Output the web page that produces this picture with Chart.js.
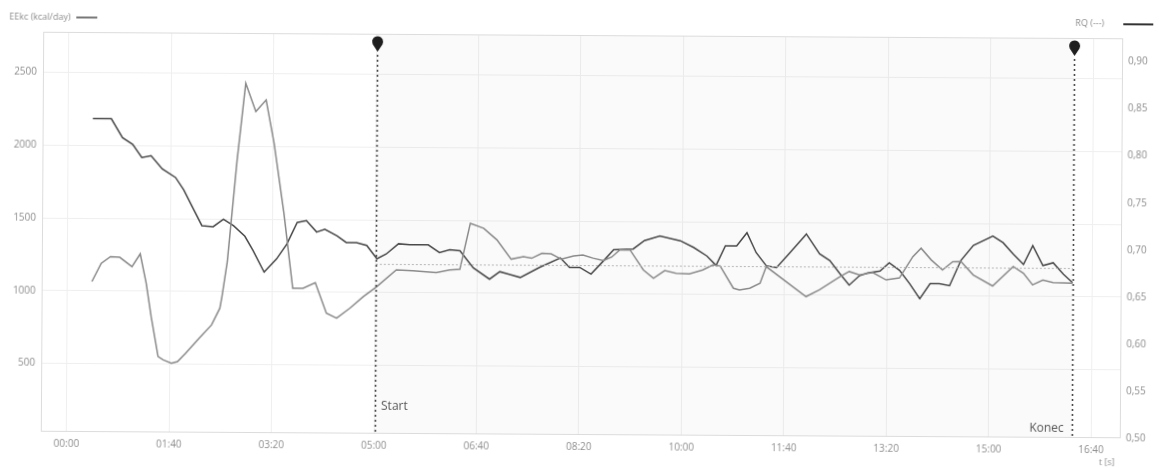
<!DOCTYPE html>
<html>
<head>
<meta charset="utf-8">
<script src="https://cdn.jsdelivr.net/npm/chart.js@4.4.1/dist/chart.umd.min.js"></script>
<style>
  html, body { margin: 0; padding: 0; background: #fff; overflow: hidden; }
  /* the reference is a slightly tilted scan */
  #wrap { width: 1162px; height: 468px; transform: rotate(0.345deg); transform-origin: 581px 234px; }
</style>
</head>
<body>
<div id="wrap"><canvas id="chart" width="1162" height="468"></canvas></div>
<script>
// time in seconds
const rqTimes = [24,42,53,63,72,81,92,105,113,121,131,142,152,162,173,181,192,204,214,224,
  233,243,251,263,272,282,292,302,311,323,334,352,363,373,383,396,412,422,432,442,
  461,481,490,500,511,523,533,552,563,578,598,611,624,633,642,653,663,672,682,692,
  705,721,734,744,754,763,773,781,793,802,812,822,832,842,851,861,872,884,903,913,
  923,933,942,952,962,972,981];
const rqValues = [0.833,0.833,0.813,0.806,0.792,0.794,0.780,0.771,0.758,0.741,
  0.720,0.719,0.727,0.720,0.709,0.694,0.671,0.685,0.701,0.724,
  0.726,0.714,0.717,0.710,0.703,0.703,0.700,0.686,0.691,0.702,
  0.701,0.701,0.693,0.696,0.695,0.677,0.665,0.673,0.670,0.667,
  0.678,0.688,0.678,0.678,0.671,0.685,0.697,0.698,0.707,0.712,
  0.707,0.700,0.691,0.681,0.702,0.702,0.716,0.695,0.681,0.679,
  0.695,0.715,0.694,0.687,0.673,0.661,0.671,0.674,0.676,0.685,
  0.677,0.663,0.647,0.663,0.663,0.661,0.688,0.704,0.714,0.707,
  0.695,0.684,0.704,0.683,0.686,0.674,0.665];

const eeTimes = [24,33,42,51,63,71,77,82,89,94,102,108,116,129,141,149,151,156,165,173,
  183,193,201,211,220,230,242,253,263,276,289,302,321,337,360,373,383,393,406,419,
  433,445,453,463,472,482,494,503,513,523,531,539,549,562,572,583,594,607,620,630,
  637,650,656,666,676,682,721,734,754,763,773,786,799,812,825,833,843,854,864,872,
  884,903,923,933,942,952,962,981];
const eeValues = [1064,1190,1236,1232,1168,1256,1055,826,551,529,
  506,518,576,679,771,886,966,1205,1905,2432,
  2238,2319,2022,1541,1027,1027,1066,856,822,892,
  972,1041,1157,1152,1140,1159,1164,1480,1446,1367,
  1235,1253,1242,1277,1273,1237,1260,1267,1245,1229,
  1253,1303,1303,1167,1110,1163,1145,1141,1169,1204,
  1197,1045,1033,1045,1080,1194,990,1037,1129,1164,
  1141,1158,1108,1122,1269,1327,1247,1179,1236,1237,
  1146,1071,1205,1160,1080,1114,1096,1093];

const startTime = 301;
const endTime = 981;
const rqMean = 0.68;

const xTicks = [0,100,200,300,400,500,600,700,800,900,1000];
const eeTicks = [500,1000,1500,2000,2500];
const rqTicks = [0.5,0.55,0.6,0.65,0.7,0.75,0.8,0.85,0.9];

const tickFont = { family: 'Open Sans', size: 10 };
const tickColor = '#8e8e8e';

function mmss(v) {
  const m = Math.floor(v / 60), s = Math.round(v % 60);
  return String(m).padStart(2, '0') + ':' + String(s).padStart(2, '0');
}

const overlay = {
  id: 'overlay',
  beforeDatasetsDraw(chart) {
    const { ctx, chartArea: a, scales: { x } } = chart;
    const xs = x.getPixelForValue(startTime), xe = x.getPixelForValue(endTime);
    ctx.save();
    ctx.fillStyle = 'rgba(0,0,0,0.018)';
    ctx.fillRect(xs, a.top, xe - xs, a.bottom - a.top);
    ctx.strokeStyle = '#dcdcdc';
    ctx.lineWidth = 1;
    ctx.strokeRect(a.left + 0.5, a.top + 0.5, a.right - a.left - 1, a.bottom - a.top - 1);
    ctx.restore();
  },
  afterDatasetsDraw(chart) {
    const { ctx, chartArea: a, scales: { x } } = chart;
    ctx.save();
    [startTime, endTime].forEach(t => {
      const px = Math.round(x.getPixelForValue(t)) + 0.5;
      // dashed marker
      ctx.strokeStyle = '#444';
      ctx.lineWidth = 1.6;
      ctx.setLineDash([2, 3]);
      ctx.beginPath();
      ctx.moveTo(px, a.top + 21);
      ctx.lineTo(px, a.bottom);
      ctx.stroke();
      ctx.setLineDash([]);
      // pin
      ctx.fillStyle = '#1e1e1e';
      ctx.beginPath();
      ctx.arc(px, a.top + 8, 5.5, Math.PI * 0.85, Math.PI * 2.15);
      ctx.lineTo(px, a.top + 18);
      ctx.closePath();
      ctx.fill();
    });
    ctx.fillStyle = '#555';
    ctx.font = '12px "Open Sans"';
    ctx.textBaseline = 'middle';
    ctx.textAlign = 'left';
    ctx.fillText('Start', x.getPixelForValue(startTime) + 6, 408);
    ctx.textAlign = 'right';
    ctx.fillText('Konec', x.getPixelForValue(endTime) - 8, 426);
    ctx.restore();
  },
  afterDraw(chart) {
    const { ctx } = chart;
    ctx.save();
    ctx.font = '9px "Open Sans"';
    ctx.fillStyle = '#8e8e8e';
    ctx.textBaseline = 'middle';
    ctx.textAlign = 'left';
    ctx.fillText('EEkc (kcal/day)', 8, 20);
    ctx.textAlign = 'right';
    ctx.fillText('RQ (---)', 1103, 20);
    ctx.textAlign = 'center';
    ctx.fillText('t [s]', 1108, 459);
    ctx.lineWidth = 2;
    ctx.strokeStyle = '#777';
    ctx.beginPath(); ctx.moveTo(75, 20.5); ctx.lineTo(96, 20.5); ctx.stroke();
    ctx.strokeStyle = '#333';
    ctx.beginPath(); ctx.moveTo(1122, 21); ctx.lineTo(1152, 21); ctx.stroke();
    ctx.restore();
  }
};

new Chart(document.getElementById('chart'), {
  type: 'line',
  data: {
    datasets: [
      {
        label: 'mean',
        data: [{ x: startTime, y: rqMean }, { x: endTime, y: rqMean }],
        yAxisID: 'y2',
        borderColor: '#b4b4b4',
        borderWidth: 1,
        borderDash: [2, 2],
        pointRadius: 0
      },
      {
        label: 'EEkc (kcal/day)',
        data: eeTimes.map((t, i) => ({ x: t, y: eeValues[i] })),
        yAxisID: 'y',
        borderColor: '#8a8a8a',
        borderWidth: 1.5,
        pointRadius: 0,
        tension: 0
      },
      {
        label: 'RQ (---)',
        data: rqTimes.map((t, i) => ({ x: t, y: rqValues[i] })),
        yAxisID: 'y2',
        borderColor: '#484848',
        borderWidth: 1.5,
        pointRadius: 0,
        tension: 0
      }
    ]
  },
  options: {
    responsive: false,
    devicePixelRatio: 1,
    animation: false,
    layout: { padding: { top: 35, left: 0, right: 0, bottom: 0 } },
    plugins: { legend: { display: false }, tooltip: { enabled: false } },
    scales: {
      x: {
        type: 'linear',
        min: -25,
        max: 1029,
        afterBuildTicks: s => { s.ticks = xTicks.map(v => ({ value: v })); },
        afterFit: s => { s.height = 33; },
        grid: { color: '#efefef', drawTicks: false },
        border: { display: false },
        ticks: { font: tickFont, color: tickColor, padding: 6, maxRotation: 0, autoSkip: false, callback: v => mmss(v) }
      },
      y: {
        position: 'left',
        min: 30,
        max: 2778,
        afterBuildTicks: s => { s.ticks = eeTicks.map(v => ({ value: v })); },
        afterFit: s => { s.width = 42; },
        grid: { color: '#efefef', drawTicks: false },
        border: { display: false },
        ticks: { font: tickFont, color: tickColor, padding: 6, callback: v => String(v) }
      },
      y2: {
        position: 'right',
        min: 0.5,
        max: 0.925,
        afterBuildTicks: s => { s.ticks = rqTicks.map(v => ({ value: v })); },
        afterFit: s => { s.width = 40; },
        grid: { drawOnChartArea: false, drawTicks: false },
        border: { display: false },
        ticks: { font: tickFont, color: tickColor, padding: 5, callback: v => v.toFixed(2).replace('.', ',') }
      }
    }
  },
  plugins: [overlay]
});
</script>
</body>
</html>
